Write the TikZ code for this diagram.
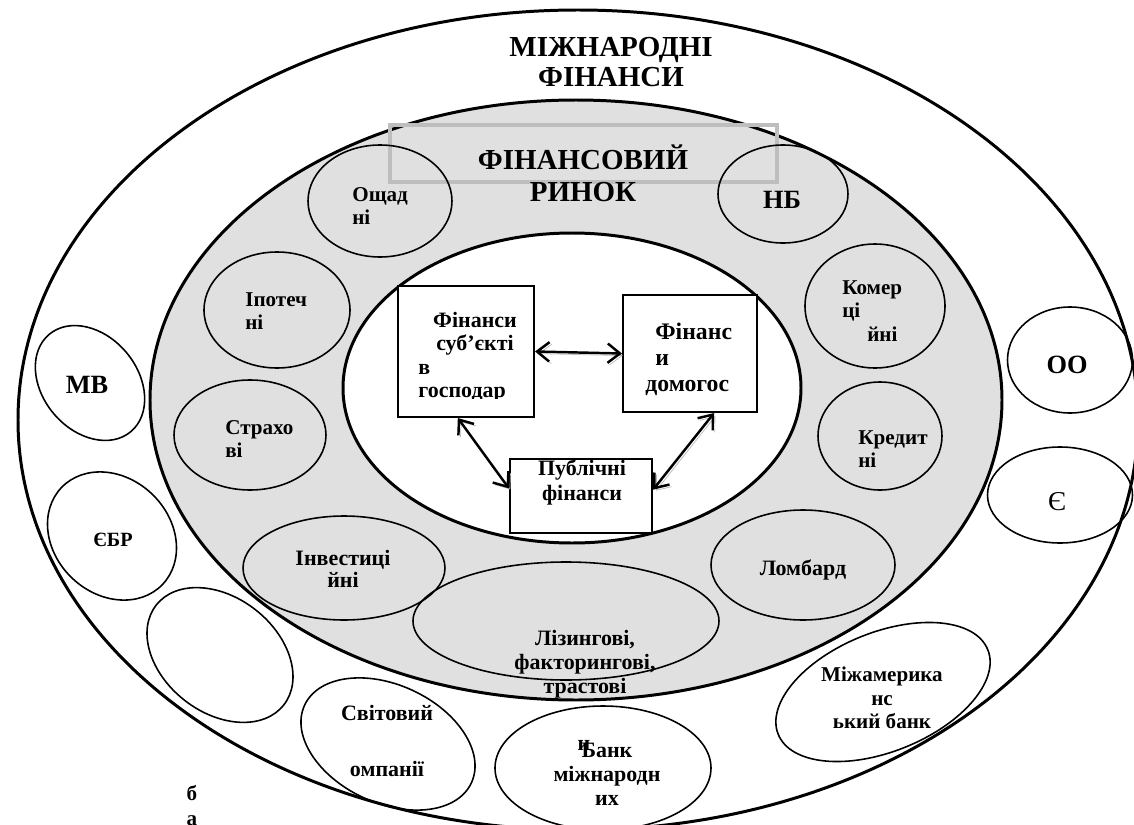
\documentclass[tikz,border=0pt]{standalone}
\usepackage{fontspec}
\setmainfont{Liberation Serif}
\usetikzlibrary{shapes.geometric,arrows.meta}

\definecolor{ringgray}{HTML}{E0E0E0}
\definecolor{framegray}{HTML}{BEBEBE}
\newcommand\pxu{0.02cm}

\tikzset{
  oval/.style 2 args={ellipse, draw, line width=0.9pt, inner sep=0pt,
    minimum width=#1*\pxu, minimum height=#2*\pxu},
  bigoval/.style 2 args={ellipse, draw, line width=1.7pt, inner sep=0pt,
    minimum width=#1*\pxu, minimum height=#2*\pxu},
  fbox/.style 2 args={rectangle, draw, line width=1.2pt, fill=white, inner sep=0pt,
    minimum width=#1*\pxu, minimum height=#2*\pxu},
  txt/.style={font=\bfseries\fontsize{12}{12.8}\selectfont, align=left, inner sep=0pt},
  txtc/.style={font=\bfseries\fontsize{12.5}{13.7}\selectfont, align=center, inner sep=0pt},
  big/.style={font=\bfseries\fontsize{16.5}{17}\selectfont, align=center, inner sep=0pt},
  twoway/.style={{Straight Barb[length=7pt,width=11pt]}-{Straight Barb[length=7pt,width=11pt]},
    line width=1.4pt, preaction={draw=gray!55, transform canvas={shift={(1.2pt,-1.2pt)}}}},
}

\begin{document}
\begin{tikzpicture}[x=\pxu, y=-\pxu]
    \useasboundingbox (0,0) rectangle (1134,825);
    \clip (0,0) rectangle (1134,825);

    % rings
    \node [bigoval={1120}{820}, fill=white] (outer) at (578,420) {};
    \node [bigoval={852}{600}, fill=ringgray] (market) at (576,400) {};
    \node [bigoval={458}{310}, fill=white] (core) at (572,388) {};
    \node [draw=framegray, line width=2.4pt, inner sep=0pt,
           minimum width=387*\pxu, minimum height=57*\pxu] (frame) at (583.5,153.5) {};

    % market institutions
    \node [oval={144}{112}] (osch) at (380,201) {};
    \node [oval={146}{116}] (ipot) at (277,310) {};
    \node [oval={152}{110}] (strakh) at (250,435) {};
    \node [oval={202}{104}] (invest) at (344,568) {};
    \node [oval={306}{118}] (lizing) at (566,621) {};
    \node [oval={184}{110}] (lombard) at (803,565) {};
    \node [oval={124}{108}] (kredyt) at (880,436) {};
    \node [oval={140}{124}] (komerc) at (875,306) {};
    \node [oval={130}{98}] (nb) at (783,194) {};

    % international organisations
    \node [oval={127}{95}, rotate=-50] (mv) at (90,383) {};
    \node [oval={140}{116}, rotate=-44] (yebr) at (112,536) {};
    \node [oval={162}{115}, rotate=-38] (empt) at (220,655) {};
    \node [oval={184}{118}, rotate=-25] (svit) at (388,744) {};
    \node [oval={216}{124}] (bank) at (603,768) {};
    \node [oval={226}{119}, rotate=22] (miam) at (883,692) {};
    \node [oval={145}{96}] (ye) at (1060,495) {};
    \node [oval={125}{106}] (oo) at (1070,360) {};

    % finance boxes
    \node [fbox={136}{131}] (fsg) at (466,351.5) {};
    \node [fbox={134}{117}] (fdh) at (690,353.5) {};
    \node [fbox={142}{74}] (pub) at (581,496) {};

    \draw [twoway] (fsg.east) -- (fdh.west);
    \draw [twoway] (fsg.-97) -- (pub.174);
    \draw [twoway] (fdh.-68) -- (pub.5);

    % labels
    \node [big] (tmf) at (611,62) {МІЖНАРОДНІ\\ФІНАНСИ};
    \node [big, font=\bfseries\fontsize{16.5}{18.2}\selectfont] (tfr) at (583,173) {ФІНАНСОВИЙ\\РИНОК};
    \node [txt, anchor=west] (tosch) at (352,206) {Ощад\\ні};
    \node [txt, anchor=west] (tipot) at (245,311) {Іпотеч\\ні};
    \node [txt, anchor=west] (tstrakh) at (225,439) {Страхо\\ві};
    \node [txt, anchor=west] (tkredyt) at (858,449) {Кредит\\ні};
    \node [txt, anchor=west, font=\bfseries\fontsize{12}{13.2}\selectfont] (tkomerc) at (842,311) {Комер\\ці\\\hspace*{0.5cm}йні};
    \node [big, font=\bfseries\fontsize{15}{16}\selectfont] (tnb) at (782,200) {НБ};
    \node [txtc, font=\bfseries\fontsize{12.5}{12.5}\selectfont] (tinvest) at (343,569) {Інвестиці\\йні};
    \node [txtc] (tlizing) at (585,664) {Лізингові,\\факторингові,\\трастові};
    \node [txtc] (tlombard) at (803,570) {Ломбард};

    \node [big, font=\bfseries\fontsize{15}{16}\selectfont] (tmv) at (87,385) {МВ};
    \node [txtc, font=\bfseries\fontsize{11.5}{12}\selectfont] (tyebr) at (113,540) {ЄБР};
    \node [txtc, font=\bfseries\fontsize{12.5}{32.4}\selectfont] (tsvit) at (387,741) {Світовий\\омпанії};
    \node [txtc] (tbank) at (607,774) {Банк\\міжнародн\\их};
    \node [txtc] (tbanki) at (584,745) {и};
    \node [txtc, font=\bfseries\fontsize{12}{13.4}\selectfont] (tmiam) at (882,698) {Міжамерика\\нс\\ький банк};
    \node [big, font=\bfseries\fontsize{15}{16}\selectfont] (too) at (1067,365) {ОО};
    \node [inner sep=0pt, font=\fontsize{15.5}{16}\selectfont] (tye) at (1057,502) {Є};
    \node [txtc, font=\bfseries\fontsize{12}{14.2}\selectfont] (tba) at (192,806) {б\\а};

    \node [txtc, font=\bfseries\fontsize{12.5}{13}\selectfont] (tfsg) at (475,334) {Фінанси\\суб’єкті};
    \begin{scope}
      \clip (398,286) rectangle (534,398);
      \node [txt, font=\bfseries\fontsize{12.5}{13}\selectfont, anchor=west] (tfsg2) at (418,383) {в\\господар};
    \end{scope}
    \node [txt, font=\bfseries\fontsize{13.5}{14.8}\selectfont, anchor=west] (tfdh) at (645,359)
        {\hspace*{0.2cm}Фінанс\\\hspace*{0.2cm}и\\домогос};
    \node [txtc, font=\bfseries\fontsize{12.5}{14.2}\selectfont] (tpub) at (582,482) {Публічні\\фінанси};
\end{tikzpicture}
\end{document}
